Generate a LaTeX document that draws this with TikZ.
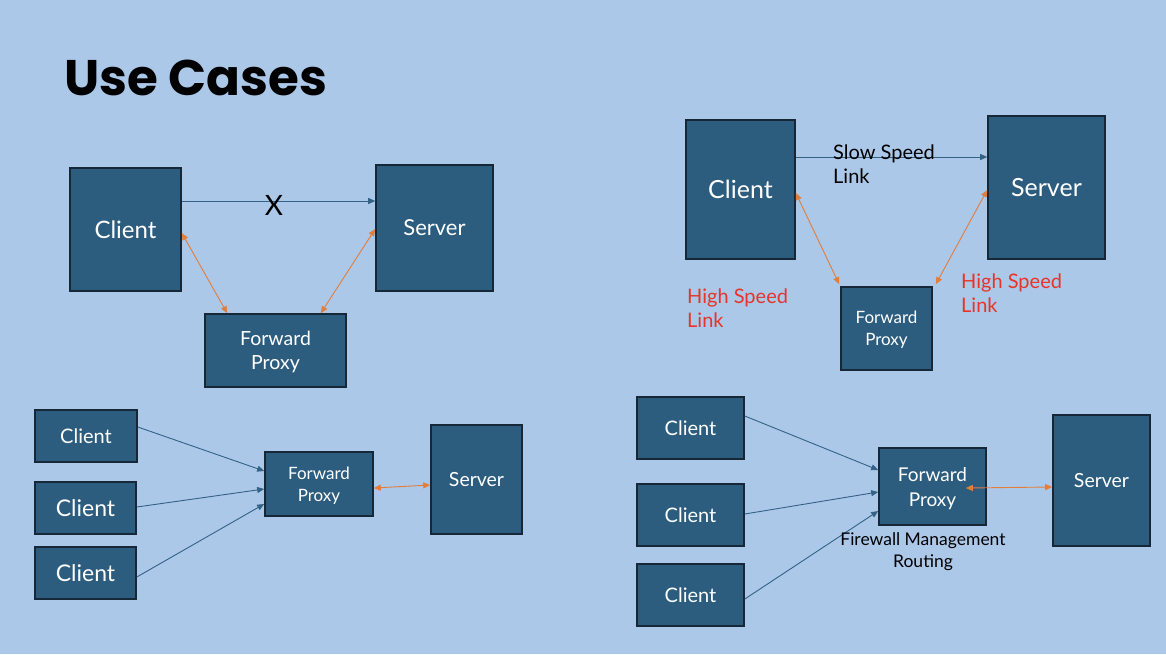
\documentclass[tikz,border=0pt]{standalone}
\usepackage{fontspec}
\setmainfont{Lato}
\newfontfamily\titlefont{Poppins}
\usetikzlibrary{arrows.meta}
\definecolor{slidebg}{RGB}{171,200,233}
\definecolor{boxfill}{RGB}{44,93,127}
\definecolor{boxline}{RGB}{22,40,56}
\definecolor{linkblue}{RGB}{52,98,132}
\definecolor{linkorange}{RGB}{226,125,60}
\definecolor{linkred}{RGB}{232,52,40}
\begin{document}
\begin{tikzpicture}[x=1pt,y=-1pt,
  box/.style={draw=boxline,line width=1.6pt,fill=boxfill,text=white,inner sep=0pt,align=center,text depth=-4pt},
  oneway/.style={draw=linkblue,line width=0.9pt,-{Triangle[length=7pt,width=6pt]}},
  twoway/.style={draw=linkorange,line width=0.9pt,{Triangle[length=7pt,width=6pt]}-{Triangle[length=7pt,width=6pt]}},
  note/.style={inner sep=0pt,align=left}]
  \fill[slidebg] (0,0) rectangle (1166,654);
  \useasboundingbox (0,0) rectangle (1166,654);

  \node[note,anchor=west,font=\titlefont\bfseries\fontsize{50}{58}\selectfont] (title) at (64,78) {Use Cases};

  % top left: direct link blocked
  \node[box,minimum width=111pt,minimum height=123pt,font=\fontsize{24}{29}\selectfont] (c1) at (125.5,229.5) {Client};
  \node[box,minimum width=117pt,minimum height=126pt,font=\fontsize{22}{27}\selectfont] (s1) at (434.5,228) {Server};
  \node[box,minimum width=141pt,minimum height=73pt,font=\fontsize{19.5}{24}\selectfont] (p1) at (275.5,350.5) {Forward\\Proxy};
  \draw[oneway] ([yshift=28.5pt]c1.east) -- ([yshift=28.5pt]c1.east -| s1.west);
  \node[note,font=\fontsize{28}{32}\selectfont] (x1) at (274,205) {X};
  \draw[twoway] ([yshift=-3.5pt]c1.east) -- ([xshift=23pt]p1.north west);
  \draw[twoway] ([xshift=-26pt]p1.north east) -- ([yshift=-1pt]s1.west);

  % top right: slow and fast links
  \node[box,minimum width=109pt,minimum height=139pt,font=\fontsize{25}{30}\selectfont] (c2) at (740.5,189.5) {Client};
  \node[box,minimum width=117pt,minimum height=143pt,font=\fontsize{25}{30}\selectfont] (s2) at (1046.5,187.5) {Server};
  \node[box,minimum width=91pt,minimum height=83pt,font=\fontsize{17}{22}\selectfont] (p2) at (886.5,328.5) {Forward\\Proxy};
  \draw[oneway] ([yshift=32.5pt]c2.east) -- ([yshift=32.5pt]c2.east -| s2.west);
  \node[note,anchor=west,font=\fontsize{20}{24}\selectfont] (slow) at (833,164) {Slow Speed\\Link};
  \draw[twoway] ([yshift=-3.5pt]c2.east) -- ([xshift=-1pt,yshift=2pt]p2.north west);
  \draw[twoway] ([yshift=-2.5pt]s2.west) -- ([xshift=3pt,yshift=2pt]p2.north east);
  \node[note,anchor=west,text=linkred,font=\fontsize{20}{24}\selectfont] (fast1) at (687,308) {High Speed\\Link};
  \node[note,anchor=west,text=linkred,font=\fontsize{20}{24}\selectfont] (fast2) at (961,293) {High Speed\\Link};

  % bottom left: many clients, one proxy
  \node[box,minimum width=102pt,minimum height=52pt,font=\fontsize{20}{24}\selectfont] (c3) at (86,436) {Client};
  \node[box,minimum width=101pt,minimum height=52pt,font=\fontsize{23}{28}\selectfont] (c4) at (85.5,508) {Client};
  \node[box,minimum width=101pt,minimum height=52pt,font=\fontsize{23}{28}\selectfont] (c5) at (85.5,573) {Client};
  \node[box,minimum width=108pt,minimum height=64pt,font=\fontsize{17}{22}\selectfont] (p3) at (319,484) {Forward\\Proxy};
  \node[box,minimum width=91pt,minimum height=109pt,font=\fontsize{19.5}{24}\selectfont] (s3) at (476.5,479.5) {Server};
  \draw[oneway] ([yshift=9pt]c3.east) -- ([yshift=13pt]p3.west);
  \draw[oneway] ([yshift=1pt]c4.east) -- ([yshift=-5pt]p3.west);
  \draw[oneway] ([yshift=-4pt]c5.east) -- ([yshift=-20pt]p3.west);
  \draw[twoway] ([yshift=-4pt]p3.east) -- ([yshift=-5.5pt]s3.west);

  % bottom right: proxy as firewall
  \node[box,minimum width=107pt,minimum height=62pt,font=\fontsize{20}{24}\selectfont] (c6) at (690.5,428) {Client};
  \node[box,minimum width=107pt,minimum height=62pt,font=\fontsize{20}{24}\selectfont] (c7) at (690.5,515) {Client};
  \node[box,minimum width=107pt,minimum height=62pt,font=\fontsize{20}{24}\selectfont] (c8) at (690.5,595) {Client};
  \node[box,minimum width=107pt,minimum height=77pt,font=\fontsize{19}{25}\selectfont] (p4) at (932.5,486.5) {Forward\\Proxy};
  \node[box,minimum width=97pt,minimum height=131pt,font=\fontsize{19.5}{24}\selectfont] (s4) at (1101.5,480.5) {Server};
  \draw[oneway] ([yshift=12pt]c6.east) -- ([yshift=16.5pt]p4.west);
  \draw[oneway] ([yshift=1pt]c7.east) -- ([yshift=-5.5pt]p4.west);
  \draw[oneway] ([yshift=-4pt]c8.east) -- ([yshift=-24.5pt]p4.west);
  \draw[twoway] ([xshift=-21pt,yshift=-1.5pt]p4.east) -- ([yshift=-6.5pt]s4.west);
  \node[note,align=center,font=\fontsize{17.5}{22}\selectfont] (fw) at (923,552) {Firewall Management\\Routing};
\end{tikzpicture}
\end{document}
